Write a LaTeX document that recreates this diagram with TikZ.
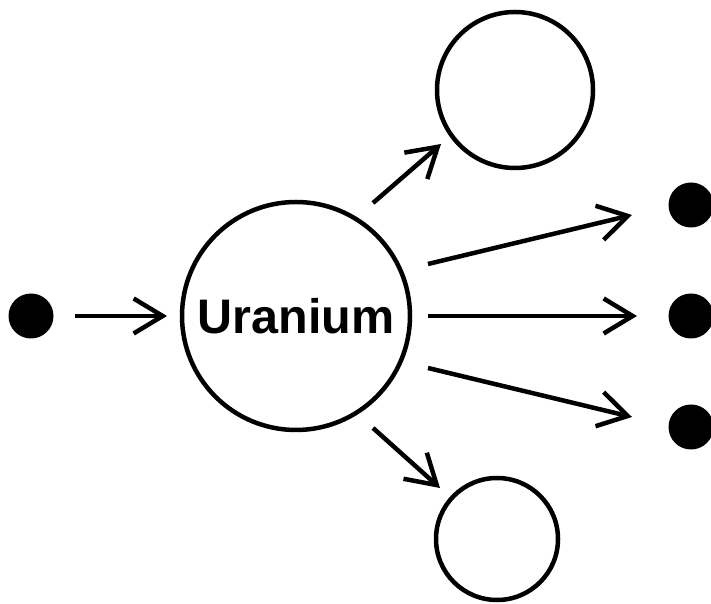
\documentclass[tikz,border=0pt]{standalone}
\usepackage{fontspec}
\setmainfont{Liberation Sans}
\usetikzlibrary{arrows.meta,calc}
\begin{document}
\begin{tikzpicture}[x=1pt,y=1pt,
  ring/.style={circle,draw=black,line width=4.5pt,fill=white,inner sep=0pt,outer sep=0pt,minimum size=#1},
  dot/.style={circle,fill=black,inner sep=0pt,outer sep=0pt,minimum size=45pt},
  arr/.style={line width=4.5pt,-{Straight Barb[length=29pt,width=35pt,line width=4.5pt]}}
]
\useasboundingbox (0,0) rectangle (711,604);
\clip (0,0) rectangle (711,604);
\node[dot] (L) at (31,288) {};
\node[ring=228pt] (U) at (296,288) {\fontsize{48.5}{58}\selectfont\bfseries Uranium};
\node[ring=156pt] (T) at (515,514) {};
\node[ring=122pt] (B) at (497,65) {};
\node[dot] (R1) at (691,399) {};
\node[dot] (R2) at (691,288) {};
\node[dot] (R3) at (691,177) {};
\draw[arr] ($(L)+(44,0)$) -- ($(U)+(-129,0)$);
\draw[arr] ($(U)+(77,113)$) -- ($(T)+(-74,-54)$);
\draw[arr] ($(U)+(132,52)$) -- ($(R1)+(-59,-10)$);
\draw[arr] ($(U)+(132,0)$) -- ($(R2)+(-54,0)$);
\draw[arr] ($(U)+(132,-52)$) -- ($(R3)+(-59,10)$);
\draw[arr] ($(U)+(77,-112)$) -- ($(B)+(-57,51)$);
\end{tikzpicture}
\end{document}
